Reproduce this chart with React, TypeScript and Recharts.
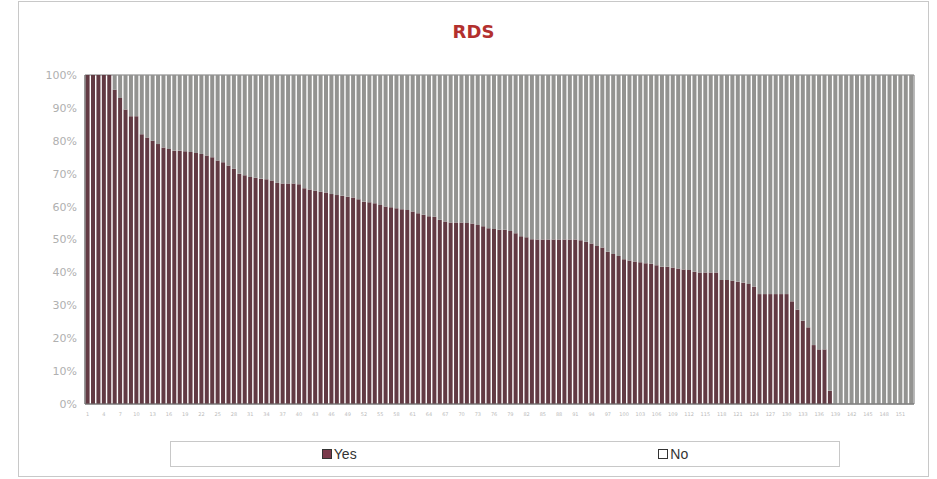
import React from 'react';
import { BarChart, Bar, XAxis, YAxis, Legend, ReferenceArea } from 'recharts';

// share of "Yes" answers per case (sorted descending)
const yesShare: number[] = [
  100, 100, 100, 100, 100, 95.5, 93, 89.5, 87.5, 87.5,
  82, 81, 80, 79, 78, 77.5, 77, 77, 76.8, 76.6,
  76.3, 76, 75.5, 75, 74, 73.5, 72.5, 71.5, 70, 69.5,
  69, 68.8, 68.5, 68.3, 67.9, 67.2, 67, 67, 67, 66.8,
  65.6, 65.2, 64.8, 64.5, 64.3, 63.8, 63.5, 63.3, 63, 62.8,
  62.2, 61.5, 61.3, 61, 60.5, 60, 59.8, 59.5, 59.2, 59,
  58.5, 58, 57.5, 57.1, 56.9, 56, 55.5, 55.2, 55.2, 55.2,
  55, 54.9, 54.4, 54, 53.4, 53.2, 53, 53, 52.6, 51.9,
  51, 50.7, 50.1, 50, 50, 50, 50, 50, 50, 50,
  50, 49.8, 49.3, 48.8, 48, 47.6, 46.3, 45.6, 45, 44,
  43.6, 43.3, 43.1, 42.8, 42.6, 42.2, 41.7, 41.7, 41.5, 41.2,
  40.9, 40.7, 40.2, 40, 40, 40, 40, 37.7, 37.7, 37.5,
  37.2, 36.9, 36.5, 35.7, 33.4, 33.4, 33.4, 33.4, 33.4, 33.4,
  31.2, 28.7, 25.3, 23.3, 17.9, 16.6, 16.6, 4, 0, 0,
  0, 0, 0, 0, 0, 0, 0, 0, 0, 0,
  0, 0, 0,
];

const caseIds = yesShare.map((_, i) => String(i + 1));
const percentTicks = [0, 10, 20, 30, 40, 50, 60, 70, 80, 90, 100];

// 100% stacked: "No" is the rest of each column
const chartData = caseIds.map((id, i) => ({
  id,
  Yes: yesShare[i],
  No: 100 - yesShare[i],
}));

const YES_COLOR = '#623a43';
const NO_COLOR = '#939391';

const RdsLegend = () => (
  <div
    style={{
      height: 24,
      border: '1px solid #c8c8c8',
      background: '#fff',
      display: 'flex',
      justifyContent: 'space-around',
      alignItems: 'center',
      fontFamily: '"Liberation Sans Narrow", "Arial Narrow", "Liberation Sans", sans-serif',
      fontSize: 14,
      color: '#333',
    }}
  >
    <span style={{ display: 'flex', alignItems: 'center' }}>
      <span style={{ display: 'inline-block', width: 8, height: 8, background: '#7a3a4c', border: '1px solid #333', marginRight: 2 }} />
      Yes
    </span>
    <span style={{ display: 'flex', alignItems: 'center' }}>
      <span style={{ display: 'inline-block', width: 8, height: 8, background: '#fff', border: '1px solid #333', marginRight: 2 }} />
      No
    </span>
  </div>
);

const App = () => {
  return (
    <div style={{ position: 'absolute', left: 0, top: 0, width: 937, height: 479, background: '#fff' }}>
      <div
        style={{
          position: 'absolute', left: 18, top: 1, width: 911, height: 476,
          border: '1px solid #c8c8c8', boxSizing: 'border-box',
        }}
      />
      <div
        style={{
          position: 'absolute', left: 0, top: 21, width: 947, textAlign: 'center',
          fontFamily: '"DejaVu Sans", Verdana, sans-serif', fontWeight: 'bold',
          fontSize: 18, color: '#b3302e',
        }}
      >
        RDS
      </div>
      <BarChart
        width={937}
        height={479}
        data={chartData}
        margin={{ top: 75, right: 23, left: 0, bottom: 12 }}
        barCategoryGap={0.6}
        style={{ position: 'absolute', left: 0, top: 0 }}
      >
        <XAxis
          dataKey="id"
          interval={2}
          height={37}
          tickLine={false}
          axisLine={{ stroke: '#777' }}
          tick={{ fontSize: 5, fill: '#bbb', fontFamily: '"DejaVu Sans", sans-serif' }}
        />
        <YAxis
          width={85}
          domain={[0, 100]}
          ticks={percentTicks}
          tickFormatter={(v: number) => `${v}%`}
          tickLine={false}
          axisLine={{ stroke: '#777' }}
          tick={{ fontSize: 11, fill: '#b0b0b0', fontFamily: '"DejaVu Sans", Verdana, sans-serif' }}
        />
        <Legend
          verticalAlign="bottom"
          content={<RdsLegend />}
          wrapperStyle={{ left: 170, width: 670, bottom: 12 }}
        />
        <Bar dataKey="Yes" stackId="rds" fill={YES_COLOR} isAnimationActive={false} />
        <Bar dataKey="No" stackId="rds" fill={NO_COLOR} isAnimationActive={false} />
        <ReferenceArea y1={0} y2={100} fill="none" stroke="#777" strokeWidth={1} />
      </BarChart>
    </div>
  );
};

export default App;
